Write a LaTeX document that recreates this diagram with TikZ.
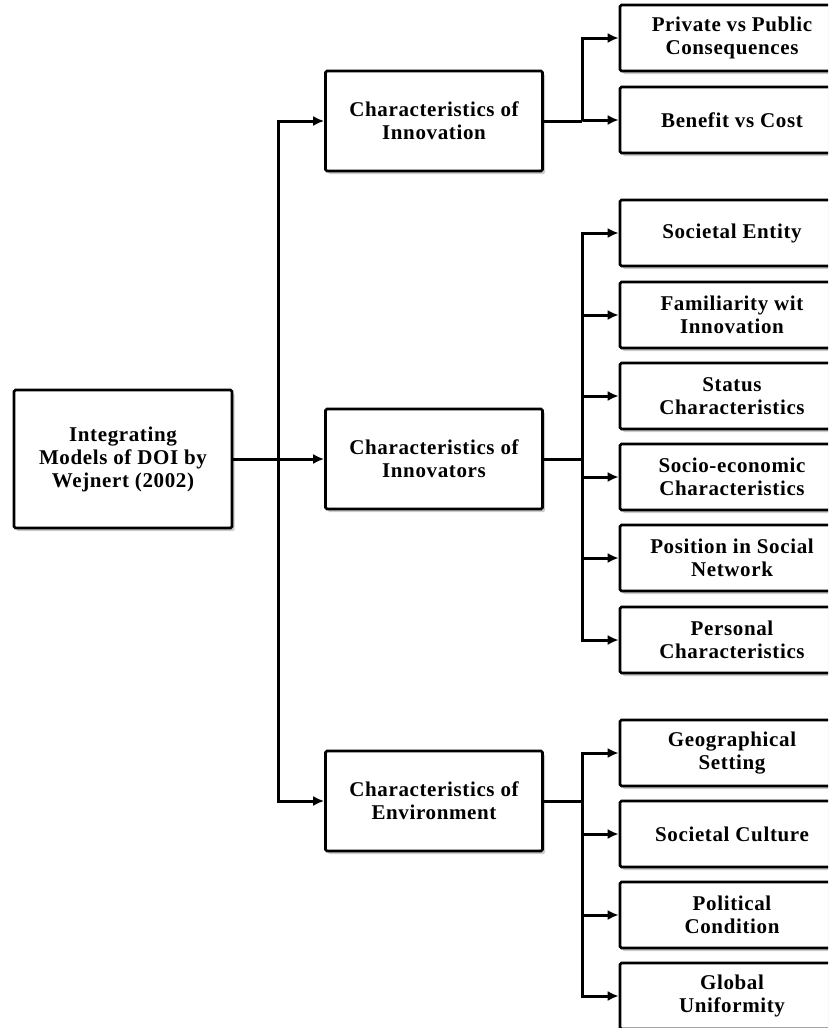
\documentclass[tikz,border=0pt]{standalone}
\usepackage{fontspec}
\setmainfont{Liberation Serif}[LetterSpace=3]
\usetikzlibrary{arrows.meta,shadows}
\tikzset{
  box/.style={draw=black, line width=2.6pt, fill=white, rounded corners=1.5pt, align=center, inner sep=0pt,
    font=\fontsize{21}{23}\selectfont\bfseries, drop shadow={opacity=0.4, shadow xshift=2.5pt, shadow yshift=-3pt}},
  midbox/.style={box, minimum width=217pt, minimum height=100pt},
  leafbox/.style={box, minimum width=224pt, minimum height=66pt},
  link/.style={line width=3pt, -{Latex[length=11pt,width=10pt]}},
  plain/.style={line width=3pt},
}
\begin{document}
\begin{tikzpicture}[x=1pt,y=-1pt]
\useasboundingbox (0,0) rectangle (828,1028);
\clip (0,0) rectangle (828,1028);
% root and the three groups
\node[box, minimum width=218pt, minimum height=138pt] (root) at (123,459) {Integrating\\Models of DOI by\\Wejnert (2002)};
\node[midbox] (cinv) at (434,121) {Characteristics of\\Innovation};
\node[midbox] (cinr) at (434,459) {Characteristics of\\Innovators};
\node[midbox] (cenv) at (434,801) {Characteristics of\\Environment};
% leaves of innovation
\node[leafbox] (pvp) at (732,38) {Private vs Public\\Consequences};
\node[leafbox] (bvc) at (732,120) {Benefit vs Cost};
% leaves of innovators
\node[leafbox] (sent) at (732,233) {Societal Entity};
\node[leafbox] (fam) at (732,315) {Familiarity wit\\Innovation};
\node[leafbox] (stat) at (732,396) {Status\\Characteristics};
\node[leafbox] (socio) at (732,477) {Socio-economic\\Characteristics};
\node[leafbox] (pos) at (732,558) {Position in Social\\Network};
\node[leafbox] (pers) at (732,640) {Personal\\Characteristics};
% leaves of environment
\node[leafbox] (geo) at (732,753) {Geographical\\Setting};
\node[leafbox] (scul) at (732,834) {Societal Culture};
\node[leafbox] (pol) at (732,915) {Political\\Condition};
\node[leafbox] (glob) at (732,996) {Global\\Uniformity};
% trunk
\coordinate (t) at (278,459);
\draw[link] (root.east) -- (cinr.west);
\draw[link] (t) |- (cinv.west);
\draw[link] (t) |- (cenv.west);
% branches
\coordinate (b1) at (582,121);
\coordinate (b2) at (582,459);
\coordinate (b3) at (582,801);
\draw[plain] (cinv.east) -- (b1);
\draw[link] (b1) |- (pvp.west);
\draw[link] (b1) |- (bvc.west);
\draw[plain] (cinr.east) -- (b2);
\draw[link] (b2) |- (sent.west);
\draw[link] (b2) |- (fam.west);
\draw[link] (b2) |- (stat.west);
\draw[link] (b2) |- (socio.west);
\draw[link] (b2) |- (pos.west);
\draw[link] (b2) |- (pers.west);
\draw[plain] (cenv.east) -- (b3);
\draw[link] (b3) |- (geo.west);
\draw[link] (b3) |- (scul.west);
\draw[link] (b3) |- (pol.west);
\draw[link] (b3) |- (glob.west);
\end{tikzpicture}
\end{document}
